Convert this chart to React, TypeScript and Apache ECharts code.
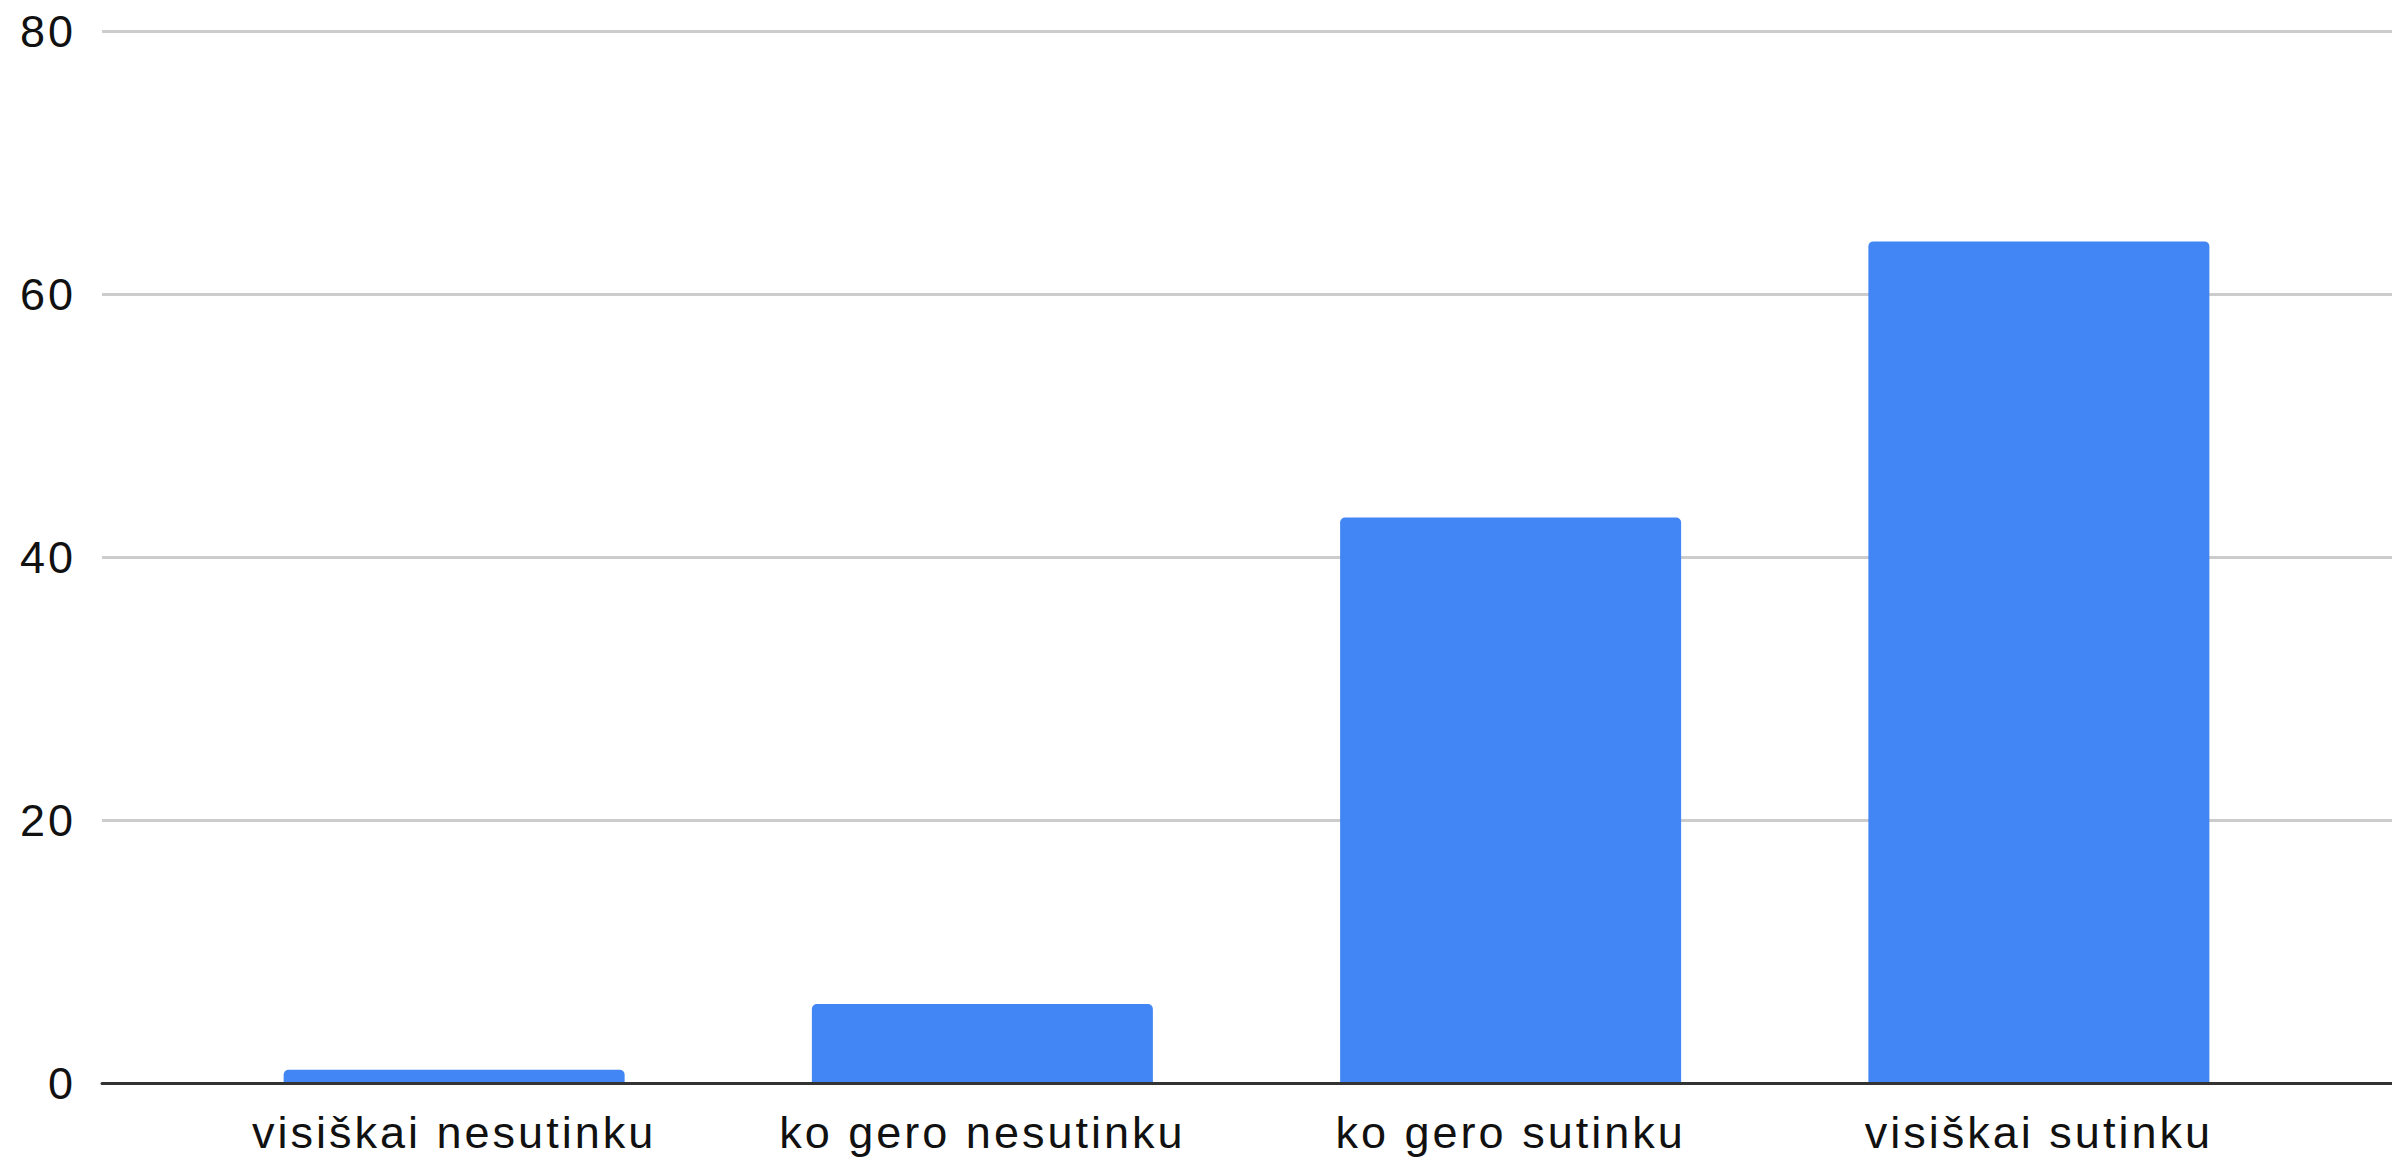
import React, { useEffect, useRef } from "react";
import * as echarts from "echarts";

const categories = ["visiškai nesutinku", "ko gero nesutinku", "ko gero sutinku", "visiškai sutinku"];
const values = [1, 6, 43, 64];
const yTicks = [0, 20, 40, 60, 80];

const FONT = '"Liberation Sans", Arial, Helvetica, sans-serif';

export default function App() {
  const ref = useRef<HTMLDivElement>(null);
  useEffect(() => {
    if (!ref.current) return;
    const chart = echarts.init(ref.current, undefined, { renderer: "svg" });
    const yMin = yTicks[0];
    const yMax = yTicks[yTicks.length - 1];
    const yInterval = yTicks[1] - yTicks[0];
    chart.setOption({
      animation: false,
      backgroundColor: "#ffffff",
      grid: [
        { left: 102, right: 0, top: 31, bottom: 77, containLabel: false, outerBoundsMode: "none" },
        { left: 190, right: 89, top: 31, bottom: 77, containLabel: false, outerBoundsMode: "none" },
      ],
      xAxis: [
        {
          gridIndex: 0,
          type: "value",
          min: 0,
          max: 1,
          axisLabel: { show: false },
          axisTick: { show: false },
          splitLine: { show: false },
          axisLine: { show: true, onZero: true, lineStyle: { color: "#333333", width: 3 } },
          z: 5,
        },
        {
          gridIndex: 1,
          type: "category",
          data: categories,
          axisLine: { show: false },
          axisTick: { show: false },
          axisLabel: {
            margin: 27,
            fontSize: 45,
            fontFamily: FONT,
            color: "#111111",
            interval: 0,
          },
        },
      ],
      yAxis: [
        {
          gridIndex: 0,
          type: "value",
          min: yMin,
          max: yMax,
          interval: yInterval,
          axisLine: { show: false },
          axisTick: { show: false },
          axisLabel: {
            margin: 26,
            fontSize: 45,
            fontFamily: FONT,
            color: "#111111",
            align: "right",
          },
          splitLine: { show: true, lineStyle: { color: "#cccccc", width: 3 } },
        },
        {
          gridIndex: 1,
          type: "value",
          min: yMin,
          max: yMax,
          interval: yInterval,
          show: false,
          splitLine: { show: false },
        },
      ],
      series: [
        {
          type: "bar",
          xAxisIndex: 1,
          yAxisIndex: 1,
          data: values,
          barWidth: 341,
          itemStyle: { color: "#4285F4", borderRadius: [5, 5, 0, 0] },
          z: 2,
        },
      ],
    });
    const svgTexts = ref.current.querySelectorAll("text");
    svgTexts.forEach((t) => {
      (t as SVGTextElement).style.letterSpacing = "3px";
    });
    return () => chart.dispose();
  }, []);
  return (
    <div
      ref={ref}
      style={{ position: "absolute", left: 0, top: 0, width: 2392, height: 1160 }}
    />
  );
}
